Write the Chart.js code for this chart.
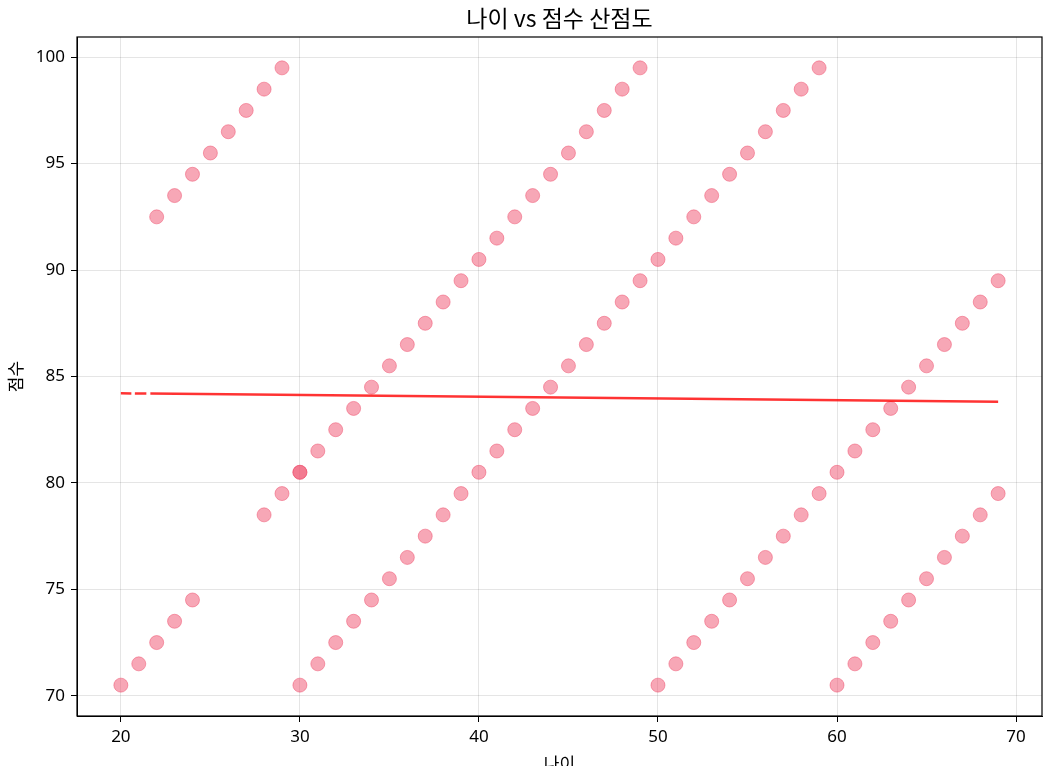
<!DOCTYPE html>
<html>
<head>
<meta charset="utf-8">
<script src="https://cdn.jsdelivr.net/npm/chart.js@4.4.0/dist/chart.umd.min.js"></script>
<style>
  html, body { margin: 0; padding: 0; background: #fff; overflow: hidden; }
  #wrap { width: 1054px; height: 778px; }
</style>
</head>
<body>
<div id="wrap"><canvas id="scatter-chart"></canvas></div>
<script>
// 나이 / 점수 pairs
var ages = [
    20, 21, 22, 22, 23, 23, 24, 24, 25, 26, 27, 28, 28, 29, 29,
    30, 30, 30, 31, 31, 32, 32, 33, 33, 34, 34, 35, 35, 36, 36,
    37, 37, 38, 38, 39, 39, 40, 40, 41, 41, 42, 42, 43, 43, 44, 44,
    45, 45, 46, 46, 47, 47, 48, 48, 49, 49, 50, 50, 51, 51, 52, 52,
    53, 53, 54, 54, 55, 55, 56, 56, 57, 57, 58, 58, 59, 59, 60, 60,
    61, 61, 62, 62, 63, 63, 64, 64, 65, 65, 66, 66, 67, 67, 68, 68, 69, 69
];
var scores = [
    70.5, 71.5, 72.5, 92.5, 73.5, 93.5, 74.5, 94.5, 95.5, 96.5, 97.5, 78.5, 98.5, 79.5, 99.5,
    70.5, 80.5, 80.5, 71.5, 81.5, 72.5, 82.5, 73.5, 83.5, 74.5, 84.5, 75.5, 85.5, 76.5, 86.5,
    77.5, 87.5, 78.5, 88.5, 79.5, 89.5, 80.5, 90.5, 81.5, 91.5, 82.5, 92.5, 83.5, 93.5, 84.5, 94.5,
    85.5, 95.5, 86.5, 96.5, 87.5, 97.5, 88.5, 98.5, 89.5, 99.5, 70.5, 90.5, 71.5, 91.5, 72.5, 92.5,
    73.5, 93.5, 74.5, 94.5, 75.5, 95.5, 76.5, 96.5, 77.5, 97.5, 78.5, 98.5, 79.5, 99.5, 70.5, 80.5,
    71.5, 81.5, 72.5, 82.5, 73.5, 83.5, 74.5, 84.5, 75.5, 85.5, 76.5, 86.5, 77.5, 87.5, 78.5, 88.5, 79.5, 89.5
];

// trend line end points
var trendAges = [20, 69];
var trendScores = [84.21, 83.81];

var xTicks = [20, 30, 40, 50, 60, 70];
var yTicks = [70, 75, 80, 85, 90, 95, 100];

var krFont = "'Noto Sans CJK KR', sans-serif";
var tickFont = "'Noto Sans', 'Noto Sans CJK KR', sans-serif";

function makePoints(xs, ys) {
    const points = [];
    xs.forEach((x, i) => {
        points.push({ x: x, y: ys[i] });
    });
    return points;
}

function fixedTicks(values) {
    return function (scale) {
        scale.ticks = values.map(v => ({ value: v }));
    };
}

// matplotlib style box round the plot area
const framePlugin = {
    id: 'frame',
    afterDraw(chart) {
        const a = chart.chartArea;
        const ctx = chart.ctx;
        ctx.save();
        ctx.strokeStyle = '#000';
        ctx.lineWidth = 1.2;
        ctx.strokeRect(a.left, a.top, a.right - a.left, a.bottom - a.top);
        ctx.restore();
    }
};

const pink = 'rgba(240, 80, 110, 0.5)';

new Chart(document.getElementById('scatter-chart'), {
    type: 'scatter',
    data: {
        datasets: [
            {
                data: makePoints(trendAges, trendScores),
                xAxisID: 'x',
                yAxisID: 'y',
                showLine: true,
                borderColor: 'rgba(255, 0, 0, 0.8)',
                borderWidth: 2.5,
                borderDash: [10.5, 3.5, 11.5, 4, 3000],
                pointRadius: 0,
                order: 0
            },
            {
                data: makePoints(ages, scores),
                xAxisID: 'x',
                yAxisID: 'y',
                backgroundColor: pink,
                borderColor: pink,
                borderWidth: 1,
                pointRadius: 7,
                order: 1
            }
        ]
    },
    options: {
        responsive: true,
        maintainAspectRatio: false,
        animation: false,
        layout: { padding: { left: 0, right: 12, top: 0, bottom: 0 } },
        plugins: {
            legend: { display: false },
            tooltip: { enabled: false }
        },
        scales: {
            x: {
                type: 'linear',
                min: 17.55,
                max: 71.45,
                afterBuildTicks: fixedTicks(xTicks),
                afterFit: scale => { scale.height = 62; },
                grid: { color: 'rgba(0,0,0,0.1)', tickColor: '#000', tickLength: 6 },
                border: { color: '#000' },
                ticks: { color: '#000', padding: 5, font: { family: tickFont, size: 17 } },
                title: {
                    display: true,
                    text: '나이',
                    color: '#000',
                    font: { family: krFont, size: 17 },
                    padding: { top: 0, bottom: 4 }
                }
            },
            y: {
                type: 'linear',
                min: 69.05,
                max: 100.95,
                afterBuildTicks: fixedTicks(yTicks),
                afterFit: scale => { scale.width = 77; },
                grid: { color: 'rgba(0,0,0,0.1)', tickColor: '#000', tickLength: 6 },
                border: { color: '#000' },
                ticks: { color: '#000', padding: 6, font: { family: tickFont, size: 17 } },
                title: {
                    display: true,
                    text: '점수',
                    color: '#000',
                    font: { family: krFont, size: 17 },
                    padding: { top: 5, bottom: 0 }
                }
            },
            // top axis only carries the title, so it is centred over the plot
            top: {
                type: 'linear',
                position: 'top',
                afterFit: scale => { scale.height = 37; },
                grid: { display: false },
                border: { display: false },
                ticks: { display: false },
                title: {
                    display: true,
                    text: '나이 vs 점수 산점도',
                    color: '#000',
                    font: { family: krFont, size: 23, weight: 'normal' },
                    padding: { top: 4, bottom: 0 }
                }
            }
        }
    },
    plugins: [framePlugin]
});
</script>
</body>
</html>
